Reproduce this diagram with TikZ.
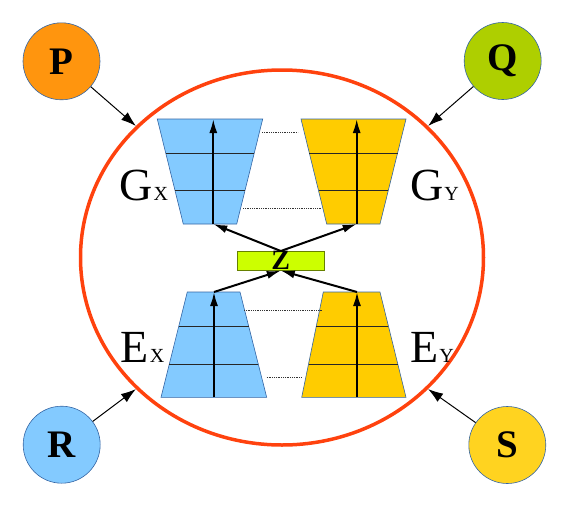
\documentclass[tikz,border=0pt]{standalone}
\usepackage{fontspec}
\setmainfont{Liberation Serif}
\usetikzlibrary{arrows.meta,shapes.geometric,calc}
\definecolor{blueL}{HTML}{83CAFF}
\definecolor{yellowT}{HTML}{FFCC00}
\definecolor{orangeP}{HTML}{FF950E}
\definecolor{greenQ}{HTML}{AECF00}
\definecolor{yellowS}{HTML}{FFD320}
\definecolor{limeZ}{HTML}{CCFF00}
\definecolor{ringR}{HTML}{FF420E}
\definecolor{edgeB}{HTML}{3465A4}
\newcommand{\ulabel}[2]{#1\kern1pt{\fontsize{20}{20}\selectfont #2}}

\begin{document}
\begin{tikzpicture}[
		x=1pt, y=-1pt,
		ring/.style={ellipse,draw=ringR,line width=3.5pt,inner sep=0pt},
		ball/.style={circle,draw=edgeB,line width=0.6pt,inner sep=0pt,
		minimum size=77pt,font=\fontsize{39}{39}\selectfont\bfseries},
		zbox/.style={rectangle,draw=black!50!limeZ,fill=limeZ,line width=0.6pt,
		inner sep=0pt,minimum width=86.3pt,minimum height=19pt,
		font=\fontsize{28}{28}\selectfont\bfseries},
		feed/.style={-{Latex[length=15pt,width=10pt]},draw=black,line width=1pt},
		flow/.style={-{Latex[length=14pt,width=8pt]},draw=black,line width=2pt},
		layer/.style={draw=edgeB,line width=0.6pt},
		rung/.style={draw=black!85,line width=0.9pt},
		link/.style={densely dotted,draw=black!80,line width=0.8pt},
		tag/.style={anchor=base west,inner sep=0pt,font=\fontsize{46}{46}\selectfont}
		]
		\useasboundingbox (0,0) rectangle (563,507);
		\node[ring, minimum width=403pt, minimum height=375pt] (ring) at (282,257.5) {};
		% the four blocks
		\foreach \n/\col/\xa/\xb/\xc/\xd/\ya/\yb/\xm in {
			gx/blueL/157.3/262.7/236.7/183.3/119/224/213.3,
			gy/yellowT/301/406/380/326.7/119/224/356.7,
			ex/blueL/187.3/240/266.7/161/292/397.3/214,
			ey/yellowT/323.3/380/406/301.7/292/397.3/357}
		{
			\coordinate (\n-tl) at (\xa,\ya);
			\coordinate (\n-tr) at (\xb,\ya);
			\coordinate (\n-br) at (\xc,\yb);
			\coordinate (\n-bl) at (\xd,\yb);
			\coordinate (\n-t) at (\xm,\ya);
			\coordinate (\n-b) at (\xm,\yb);
			\filldraw[layer, fill=\col] (\n-tl) -- (\n-tr) -- (\n-br) -- (\n-bl) -- cycle;
			\foreach \s in {0.325,0.685}
				\draw[rung] ($(\n-tl)!\s!(\n-bl)$) -- ($(\n-tr)!\s!(\n-br)$);
			\draw[flow] (\n-b) -- (\n-t);
		}
		\foreach \i/\xa/\xb/\y in {1/262/298/132.3, 2/243/321.7/208.3,
			3/244/321.7/310.7, 4/266.7/301.7/377.3}
		{
			\coordinate (l\i-a) at (\xa,\y);
			\coordinate (l\i-b) at (\xb,\y);
			\draw[link] (l\i-a) -- (l\i-b);
		}
		\node[zbox] (Z) at (280.8,260.8) {Z};
		\draw[flow] (Z.north) -- (gx-b);
		\draw[flow] (Z.north) -- (gy-b);
		\draw[flow] (ex-t) -- (Z.south);
		\draw[flow] (ey-t) -- (Z.south);
		% labels
		\node[tag] (gxl) at (119.3,200) {\ulabel{G}{X}};
		\node[tag] (gyl) at (410,200.7) {\ulabel{G}{Y}};
		\node[tag] (exl) at (120.7,362.7) {\ulabel{E}{X}};
		\node[tag] (eyl) at (410,362.7) {\ulabel{E}{Y}};
		% outer sources
		\node[ball, fill=orangeP] (P) at (61.5,61.3) {P};
		\node[ball, fill=greenQ] (Q) at (502.7,61) {Q};
		\node[ball, fill=blueL] (R) at (61.7,444.7) {R};
		\node[ball, fill=yellowS] (S) at (507.3,445) {S};
		\draw[feed] (P) -- (ring.138);
		\draw[feed] (Q) -- (ring.42);
		\draw[feed] (R) -- (ring.222);
		\draw[feed] (S) -- (ring.318);
	\end{tikzpicture}
\end{document}
